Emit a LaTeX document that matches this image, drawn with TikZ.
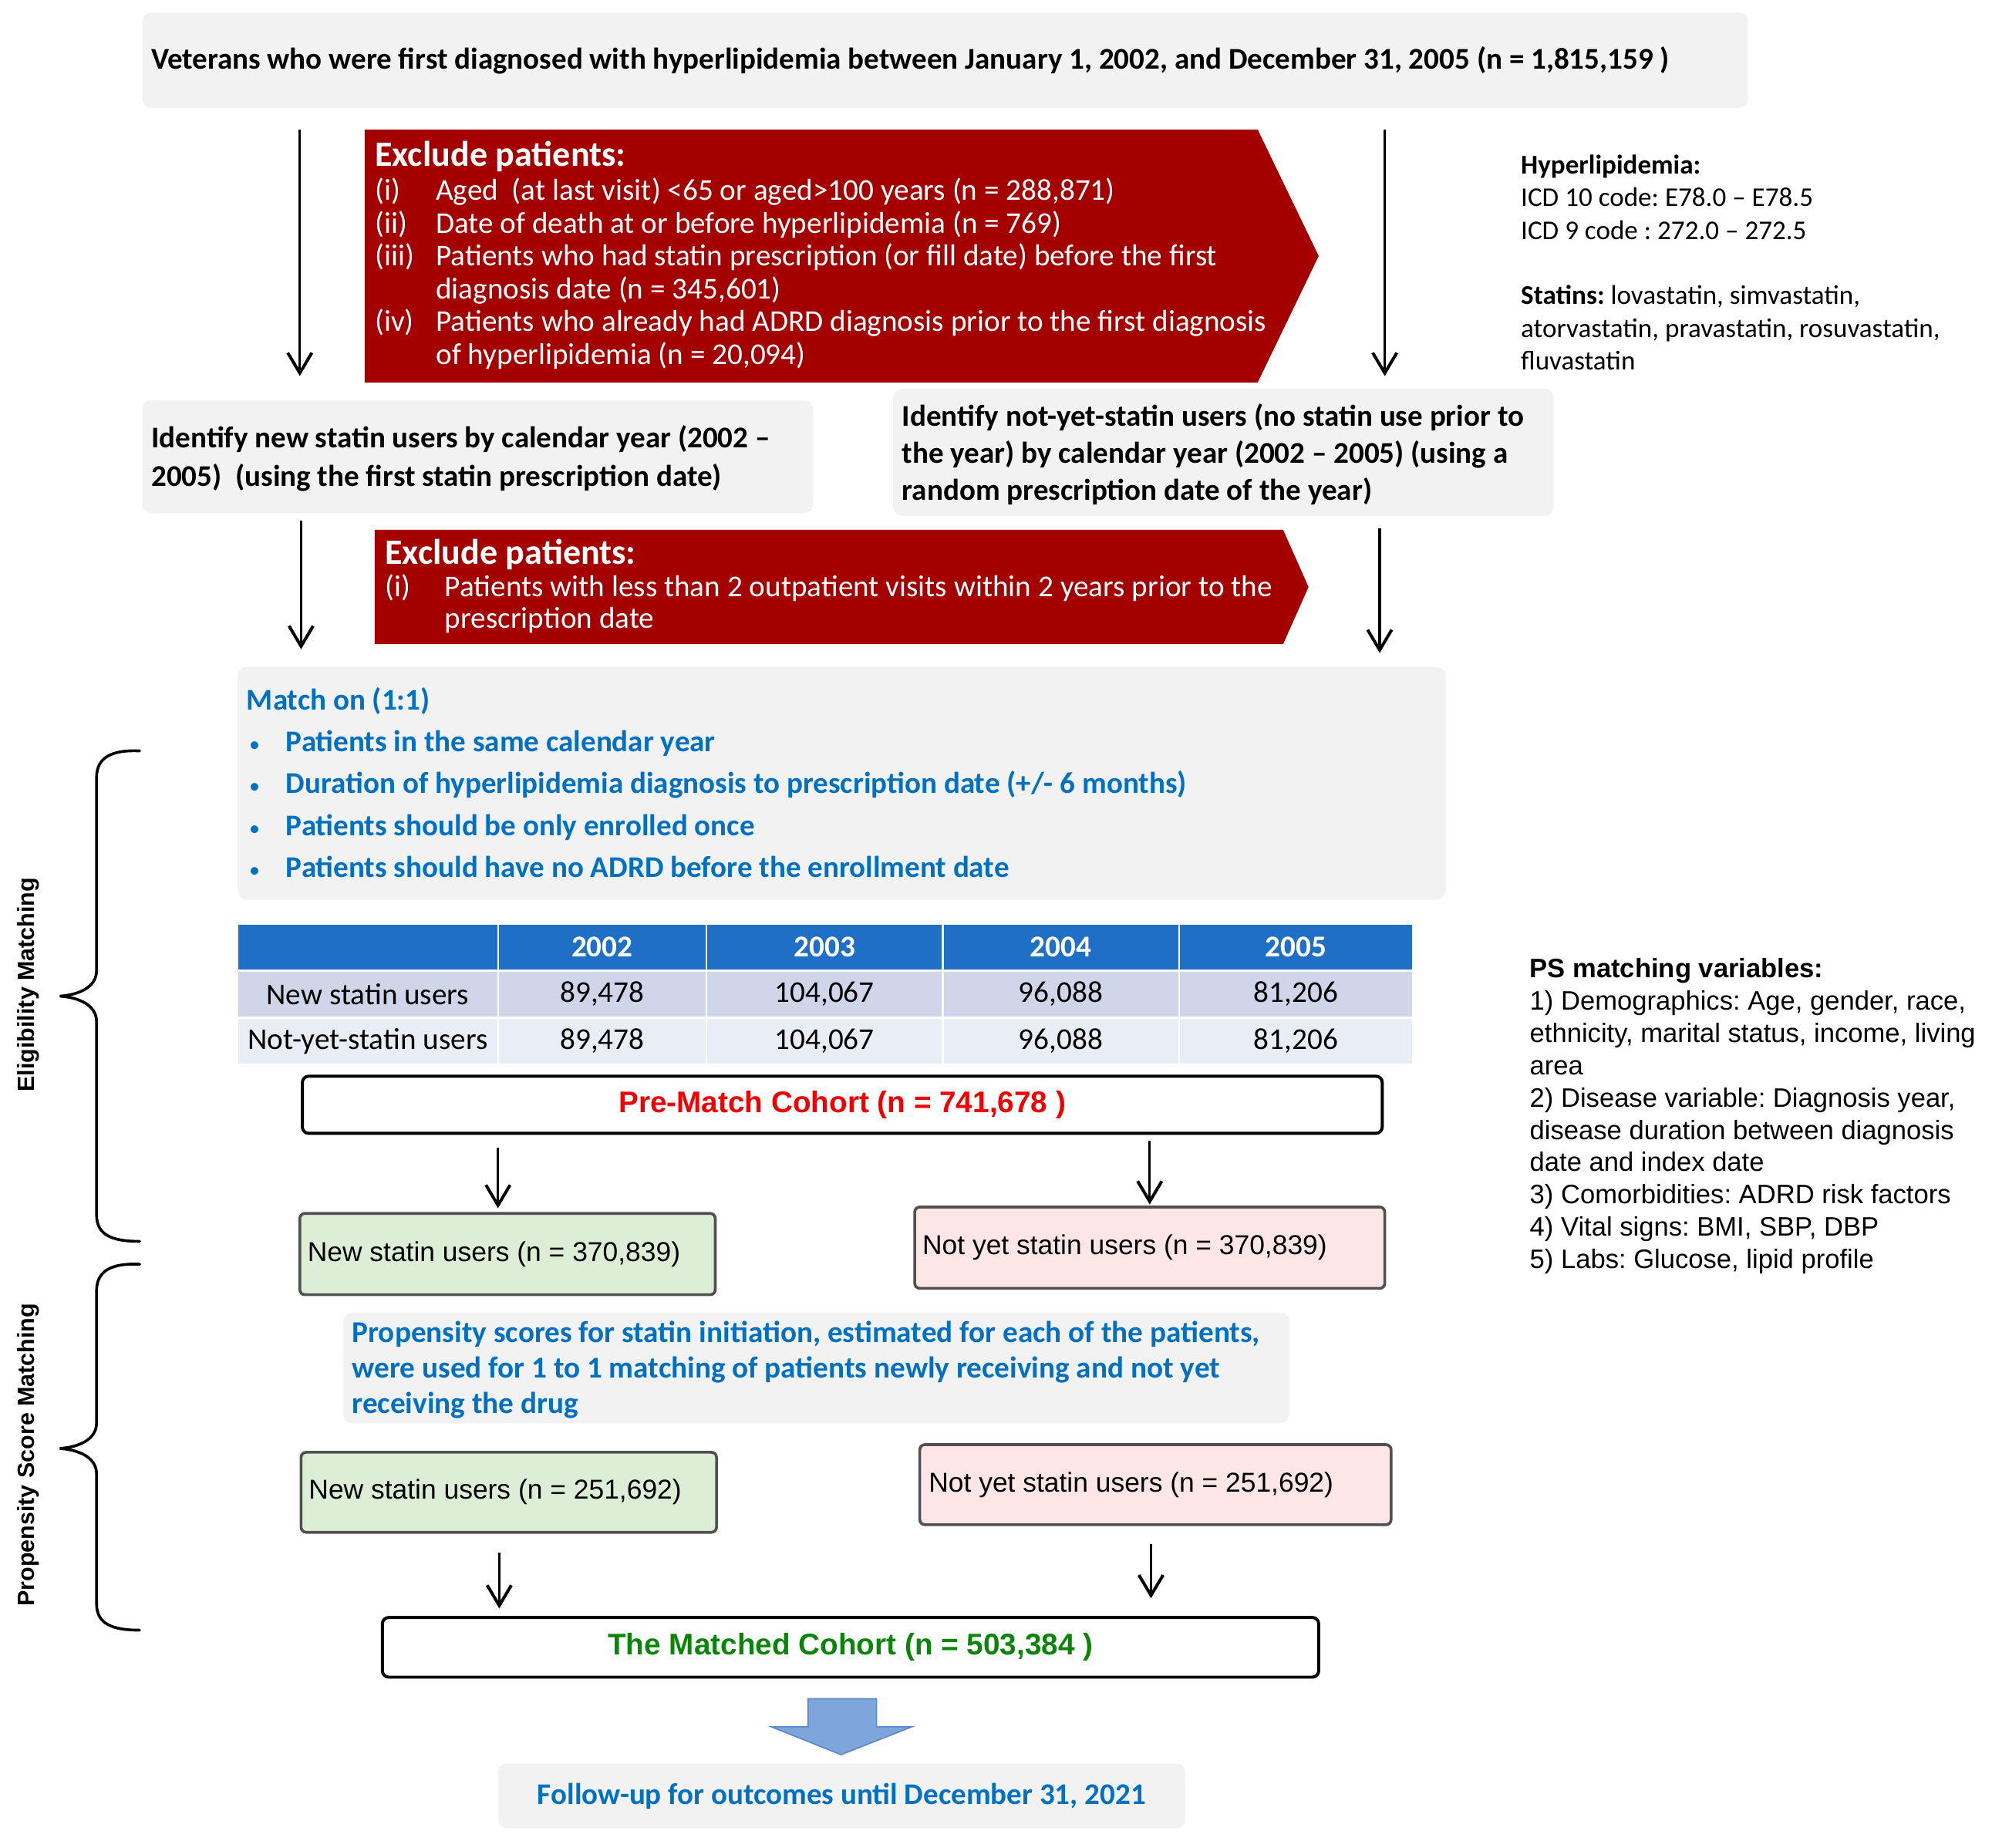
\documentclass[tikz,border=0pt]{standalone}
\usepackage{fontspec}
\setmainfont{Carlito}
\newfontfamily\arialf{Liberation Sans}
\usetikzlibrary{arrows.meta}
\definecolor{boxgray}{HTML}{F2F2F2}
\definecolor{exred}{HTML}{A50000}
\definecolor{tblue}{HTML}{0070C0}
\definecolor{hdrblue}{HTML}{1F6FC6}
\definecolor{rowa}{HTML}{CFD6EA}
\definecolor{rowb}{HTML}{E9EDF6}
\definecolor{lgreen}{HTML}{DCEFD6}
\definecolor{lpink}{HTML}{FFE6E6}
\definecolor{cohred}{HTML}{F00000}
\definecolor{cohgreen}{HTML}{0A850A}
\definecolor{barrow}{HTML}{7EA6DC}
\definecolor{barrowd}{HTML}{5A88C8}
\definecolor{boxedge}{HTML}{505050}
\newcommand\smbul{{\normalfont\fontsize{17}{17}\selectfont\textbullet}}
\begin{document}
\frenchspacing
\begin{tikzpicture}[x=1pt,y=-1pt,
  graybox/.style={fill=boxgray, draw=none, rounded corners=7pt, inner sep=0pt},
  txt/.style={inner sep=0pt, anchor=north west, align=left},
  arr/.style={line width=2pt, -{Straight Barb[length=16pt,width=19pt,line width=2.4pt]}},
  tcell/.style={draw=white, line width=1.5pt, minimum height=37pt, inner sep=0pt, font=\fontsize{23.8}{26}\selectfont},
  cohbox/.style={draw=black, line width=2.4pt, rounded corners=5pt, fill=white, inner sep=0pt, font=\arialf\bfseries\fontsize{23.5}{28}\selectfont},
  grbox/.style={fill=lgreen, draw=boxedge, line width=2.2pt, rounded corners=4pt, inner sep=0pt},
  pkbox/.style={fill=lpink, draw=boxedge, line width=2.2pt, rounded corners=4pt, inner sep=0pt},
  boxtxt/.style={inner sep=0pt, anchor=west, font=\arialf\fontsize{21.5}{25}\selectfont},
  brace/.style={line width=2.2pt, line cap=round},
  bracelab/.style={rotate=90, inner sep=0pt, font=\arialf\bfseries\fontsize{18.5}{22}\selectfont}]
\useasboundingbox (0,0) rectangle (1568,1454);

% top box
\node[graybox, minimum width=1264pt, minimum height=75pt] (top) at (744,47.5) {};
\node[inner sep=0pt, anchor=west, font=\bfseries\fontsize{23.7}{26}\selectfont] (toptxt) at ([xshift=7pt]top.west) {Veterans who were first diagnosed with hyperlipidemia between January 1, 2002, and December 31, 2005 (n = 1,815,159 )};

% first exclusion
\fill[exred] (287,102) -- (990,102) -- (1038,201.5) -- (990,301) -- (287,301) -- cycle;
\coordinate (ex1) at (287,102);
\node[inner sep=0pt, anchor=base west, text=white, font=\bfseries\fontsize{28}{32}\selectfont] (ex1title) at (295,131) {Exclude patients:};
\node[txt, text=white, font=\fontsize{23.8}{25.8}\selectfont] (ex1items) at (295,139.3) {\begin{tabular}{@{}p{48pt}@{}l@{}}
(i) & Aged\ \ (at last visit) <65 or aged>100 years (n = 288,871)\\
(ii) & Date of death at or before hyperlipidemia (n = 769)\\
(iii) & Patients who had statin prescription (or fill date) before the first\\
 & diagnosis date (n = 345,601)\\
(iv) & Patients who already had ADRD diagnosis prior to the first diagnosis\\
 & of hyperlipidemia (n = 20,094)
\end{tabular}};

% notes
\node[txt, font=\fontsize{21.3}{25.7}\selectfont] (notes) at (1197,118.6) {\begin{tabular}{@{}l@{}}
\textbf{Hyperlipidemia:}\\
ICD 10 code: E78.0 – E78.5\\
ICD 9 code : 272.0 – 272.5\\
\\
\textbf{Statins:} lovastatin, simvastatin,\\
atorvastatin, pravastatin, rosuvastatin,\\
fluvastatin
\end{tabular}};

% arrows 1
\coordinate (a1s) at (236,102); \coordinate (a1e) at (236,296);
\coordinate (a2s) at (1090,102); \coordinate (a2e) at (1090,296);
\draw[arr] (a1s) -- (a1e);
\draw[arr] (a2s) -- (a2e);

% identify boxes
\node[graybox, minimum width=528pt, minimum height=89pt] (newid) at (376,359.5) {};
\node[txt, font=\bfseries\fontsize{23.7}{30}\selectfont] (newidtxt) at (119,331.3) {\begin{tabular}{@{}l@{}}
Identify new statin users by calendar year (2002 –\\
2005)\ \ (using the first statin prescription date)
\end{tabular}};
\node[graybox, minimum width=520pt, minimum height=100pt] (notid) at (963,356) {};
\node[txt, font=\bfseries\fontsize{23.7}{29}\selectfont] (notidtxt) at (710,315) {\begin{tabular}{@{}l@{}}
Identify not-yet-statin users (no statin use prior to\\
the year) by calendar year (2002 – 2005) (using a\\
random prescription date of the year)
\end{tabular}};

% second exclusion
\fill[exred] (295,417) -- (1010,417) -- (1030,462) -- (1010,507) -- (295,507) -- cycle;
\coordinate (ex2) at (295,417);
\node[inner sep=0pt, anchor=base west, text=white, font=\bfseries\fontsize{28}{32}\selectfont] (ex2title) at (303,444) {Exclude patients:};
\node[txt, text=white, font=\fontsize{23.8}{25}\selectfont] (ex2items) at (303,451.9) {\begin{tabular}{@{}p{47pt}@{}l@{}}
(i) & Patients with less than 2 outpatient visits within 2 years prior to the\\
 & prescription date
\end{tabular}};

\coordinate (a3s) at (237,410); \coordinate (a3e) at (237,511);
\coordinate (a4s) at (1086,416); \coordinate (a4e) at (1086,514);
\draw[arr] (a3s) -- (a3e);
\draw[arr] (a4s) -- (a4e);

% match box
\node[graybox, minimum width=951pt, minimum height=183pt] (match) at (662.5,616.5) {};
\node[txt, text=tblue, font=\bfseries\fontsize{23.7}{33}\selectfont] (matchtxt) at (194,535.2) {\begin{tabular}{@{}p{31pt}@{}l@{}}
\multicolumn{2}{@{}l@{}}{Match on (1:1)}\\
\hspace{2pt}\smbul & Patients in the same calendar year\\
\hspace{2pt}\smbul & Duration of hyperlipidemia diagnosis to prescription date (+/- 6 months)\\
\hspace{2pt}\smbul & Patients should be only enrolled once\\
\hspace{2pt}\smbul & Patients should have no ADRD before the enrollment date
\end{tabular}};

% table
\foreach \xa/\xb/\hd/\ra/\rb [count=\i] in {187/392/{}/{New statin users}/{Not-yet-statin users}, 392/556/2002/{89,478}/{89,478}, 556/742/2003/{104,067}/{104,067}, 742/928/2004/{96,088}/{96,088}, 928/1112/2005/{81,206}/{81,206}}{
  \pgfmathsetmacro\xc{(\xa+\xb)/2}
  \pgfmathsetmacro\w{\xb-\xa}
  \node[tcell, fill=hdrblue, text=white, font=\bfseries\fontsize{23.8}{26}\selectfont, minimum width=\w pt] (h\i) at (\xc,745.5) {\hd};
  \node[tcell, fill=rowa, minimum width=\w pt] (r\i) at (\xc,782.5) {\ra};
  \node[tcell, fill=rowb, minimum width=\w pt] (s\i) at (\xc,819.5) {\rb};
}

% PS variables
\node[txt, font=\arialf\fontsize{21}{25.4}\selectfont] (ps) at (1204,751.7) {\begin{tabular}{@{}l@{}}
\textbf{PS matching variables:}\\
1) Demographics: Age, gender, race,\\
ethnicity, marital status, income, living\\
area\\
2) Disease variable: Diagnosis year,\\
disease duration between diagnosis\\
date and index date\\
3) Comorbidities: ADRD risk factors\\
4) Vital signs: BMI, SBP, DBP\\
5) Labs: Glucose, lipid profile
\end{tabular}};

% pre-match
\node[cohbox, text=cohred, minimum width=850pt, minimum height=45pt] (pre) at (663,869.5) {Pre-Match Cohort (n = 741,678 )};
\coordinate (a5s) at (392,903); \coordinate (a5e) at (392,951);
\coordinate (a6s) at (905,898); \coordinate (a6e) at (905,948);
\draw[arr] (a5s) -- (a5e);
\draw[arr] (a6s) -- (a6e);

\node[grbox, minimum width=327pt, minimum height=64pt] (new1) at (399.5,987) {};
\node[boxtxt] (new1txt) at ([xshift=7pt]new1.west) {New statin users (n = 370,839)};
\node[pkbox, minimum width=370pt, minimum height=64pt] (not1) at (905,982) {};
\node[boxtxt] (not1txt) at ([xshift=7pt]not1.west) {Not yet statin users (n = 370,839)};

% propensity
\node[graybox, minimum width=745pt, minimum height=87pt] (prop) at (642.5,1076.5) {};
\node[txt, text=tblue, font=\bfseries\fontsize{23.8}{28}\selectfont] (proptxt) at (277,1036.8) {\begin{tabular}{@{}l@{}}
Propensity scores for statin initiation, estimated for each of the patients,\\
were used for 1 to 1 matching of patients newly receiving and not yet\\
receiving the drug
\end{tabular}};

\node[grbox, minimum width=327pt, minimum height=63pt] (new2) at (400.5,1174.5) {};
\node[boxtxt] (new2txt) at ([xshift=7pt]new2.west) {New statin users (n = 251,692)};
\node[pkbox, minimum width=371pt, minimum height=63pt] (not2) at (909.5,1168.5) {};
\node[boxtxt] (not2txt) at ([xshift=8pt]not2.west) {Not yet statin users (n = 251,692)};

\coordinate (a7s) at (393,1222); \coordinate (a7e) at (393,1266);
\coordinate (a8s) at (906,1215); \coordinate (a8e) at (906,1258);
\draw[arr] (a7s) -- (a7e);
\draw[arr] (a8s) -- (a8e);

\node[cohbox, text=cohgreen, minimum width=737pt, minimum height=47pt] (matched) at (669.5,1296.5) {The Matched Cohort (n = 503,384 )};

% big arrow
\filldraw[fill=barrow, draw=barrowd, line width=1pt] (636,1337) -- (690,1337) -- (690,1359) -- (718,1359) -- (662,1381) -- (607,1359) -- (636,1359) -- cycle;
\coordinate (bigarrow) at (662,1381);

\node[graybox, minimum width=541pt, minimum height=51pt, text=tblue, font=\bfseries\fontsize{23.7}{26}\selectfont] (follow) at (662.5,1413.5) {Follow-up for outcomes until December 31, 2021};

% braces
\draw[brace] (110,591) .. controls (88,590) and (76,596) .. (76,612) -- (76,764) .. controls (76,777) and (62,783) .. (47,784) .. controls (62,785) and (76,791) .. (76,804) -- (76,956) .. controls (76,972) and (88,977) .. (110,977);
\node[bracelab] (elig) at (22,775) {Eligibility Matching};
\draw[brace] (110,995) .. controls (88,994) and (76,1000) .. (76,1016) -- (76,1120) .. controls (76,1133) and (62,1139) .. (47,1140) .. controls (62,1141) and (76,1147) .. (76,1160) -- (76,1262) .. controls (76,1278) and (88,1283) .. (110,1283);
\node[bracelab] (psm) at (22,1145) {Propensity Score Matching};
\end{tikzpicture}
\end{document}
